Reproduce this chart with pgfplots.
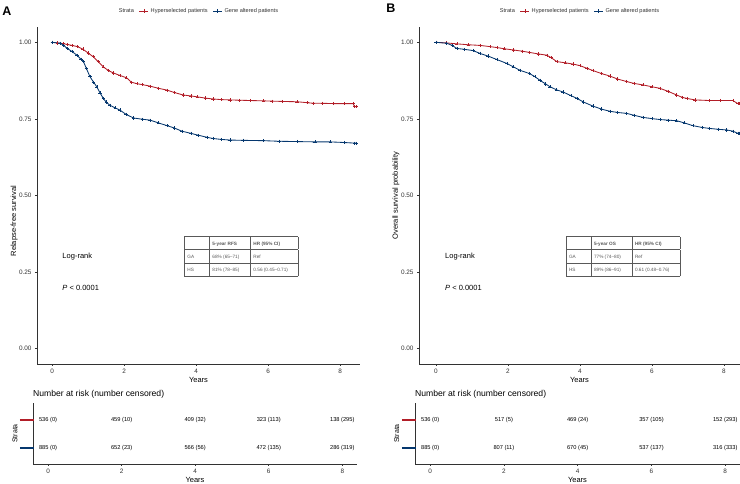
\documentclass[border=0pt]{standalone}
\usepackage{pgfplots}
\pgfplotsset{compat=1.18}
\usepackage{fontspec}
\setmainfont{Liberation Sans}
\definecolor{hsred}{RGB}{178,30,40}
\definecolor{gablue}{RGB}{5,55,110}
\definecolor{axgray}{RGB}{50,50,50}

\pgfplotstableread{
t s
0 1.000
0.15 0.998
0.3 0.996
0.42 0.993
0.55 0.990
0.7 0.986
0.85 0.978
1.0 0.965
1.14 0.953
1.28 0.937
1.42 0.920
1.56 0.908
1.7 0.900
1.88 0.892
2.07 0.884
2.2 0.870
2.35 0.865
2.5 0.862
2.72 0.857
2.95 0.850
3.19 0.844
3.4 0.836
3.64 0.828
3.85 0.825
4.03 0.822
4.25 0.818
4.47 0.815
4.7 0.813
4.94 0.812
5.2 0.811
5.5 0.810
5.86 0.809
6.1 0.808
6.4 0.807
6.8 0.806
7.08 0.803
7.25 0.801
7.5 0.801
7.8 0.800
8.1 0.800
8.36 0.800
8.4 0.790
8.45 0.790
}\rfsHS

\pgfplotstableread{
t s
0 1.000
0.22 0.997
0.32 0.990
0.42 0.980
0.55 0.970
0.69 0.958
0.8 0.945
0.87 0.937
0.95 0.915
1.05 0.888
1.15 0.870
1.24 0.855
1.33 0.835
1.42 0.817
1.5 0.805
1.6 0.795
1.75 0.786
1.88 0.779
2.05 0.765
2.26 0.753
2.5 0.749
2.72 0.746
2.95 0.737
3.19 0.728
3.4 0.720
3.6 0.710
3.85 0.703
4.05 0.697
4.3 0.690
4.47 0.686
4.7 0.683
4.94 0.681
5.3 0.680
5.86 0.679
6.3 0.677
6.8 0.676
7.3 0.675
7.72 0.675
8.1 0.673
8.4 0.671
8.45 0.671
}\rfsGA

\pgfplotstableread{
t s
0 1.000
0.3 0.998
0.58 0.995
0.9 0.992
1.22 0.990
1.5 0.986
1.69 0.983
1.9 0.979
2.15 0.975
2.4 0.971
2.6 0.967
2.85 0.962
3.08 0.958
3.2 0.950
3.36 0.937
3.6 0.933
3.81 0.929
4.0 0.924
4.2 0.915
4.36 0.908
4.6 0.898
4.83 0.890
5.05 0.880
5.3 0.872
5.5 0.866
5.75 0.861
6.0 0.855
6.22 0.850
6.45 0.840
6.69 0.828
6.85 0.820
6.97 0.817
7.2 0.812
7.6 0.810
7.9 0.810
8.25 0.810
8.39 0.800
8.44 0.800
}\osHS

\pgfplotstableread{
t s
0 1.000
0.3 0.997
0.45 0.990
0.58 0.980
0.8 0.977
1.03 0.973
1.22 0.964
1.45 0.955
1.69 0.944
1.97 0.931
2.15 0.920
2.33 0.909
2.6 0.898
2.75 0.888
2.89 0.876
3.05 0.864
3.17 0.855
3.35 0.845
3.53 0.838
3.75 0.826
3.92 0.817
4.1 0.805
4.36 0.792
4.6 0.782
4.83 0.775
5.05 0.771
5.3 0.768
5.5 0.762
5.75 0.755
6.0 0.751
6.22 0.748
6.45 0.746
6.69 0.744
6.9 0.737
7.14 0.728
7.4 0.722
7.6 0.719
7.85 0.716
8.08 0.714
8.25 0.710
8.39 0.703
8.44 0.703
}\osGA

\pgfplotsset{
  base/.style={
    scale only axis,
    axis lines*=left,
    axis line style={axgray, line width=0.5pt},
    tick align=outside,
    major tick length=2pt,
    tick style={axgray, line width=0.5pt},
    ticklabel style={font=\fontsize{6.4}{7}\selectfont, text=black!80},
    /pgf/number format/assume math mode=true,
    label style={font=\fontsize{7.5}{8}\selectfont},
    clip=false,
  },
  main/.style={
    base,
    height=337pt,
    ymin=-0.05, ymax=1.05,
    ytick={0,0.25,0.5,0.75,1},
    yticklabel style={/pgf/number format/.cd, fixed, fixed zerofill, precision=2},
    xtick={0,2,4,6,8},
    xlabel={Years},
    xlabel style={yshift=4pt},
    legend style={draw=none, at={(0.5,1)}, anchor=center, yshift=16pt,
      legend columns=-1, font=\fontsize{5.6}{6}\selectfont, text=black!80,
      /tikz/every even column/.append style={column sep=3pt}},
    legend image code/.code={\draw[#1] (0pt,0pt) -- (9pt,0pt); \draw[#1,only marks] plot coordinates {(4.5pt,0pt)};},
  },
  km/.style={sharp plot, line width=0.85pt, mark=+, mark size=1.6pt, mark options={solid, line width=0.45pt}},
  risk/.style={
    base,
    height=61pt,
    xmin=-0.41, xmax=8.4,
    ymin=0.43, ymax=2.6,
    xtick={0,2,4,6,8},
    ytick={1,2},
    ytick style={draw=none},
    yticklabels={{\textcolor{gablue}{\rule{14pt}{2.6pt}}},{\textcolor{hsred}{\rule{14pt}{2.6pt}}}},
    yticklabel style={inner sep=0pt, anchor=east, xshift=3pt},
    xlabel={Years},
    xlabel style={yshift=4pt},
    ylabel={Strata},
    ylabel style={at={(axis description cs:-0.056,0.5)}, anchor=center, font=\fontsize{7}{8}\selectfont},
  },
}

\newcommand{\cellstrut}{\rule[-4.4pt]{0pt}{12.9pt}}

\begin{document}
\begin{tikzpicture}
\path[use as bounding box] (0,0) rectangle (740pt,484pt);

% Panel letters
\node[font=\fontsize{12.5}{13}\selectfont\bfseries, anchor=center] at (7pt,472.3pt) {A};
\node[font=\fontsize{12.5}{13}\selectfont\bfseries, anchor=center] at (391pt,475.5pt) {B};

% ---------- Panel A main
\begin{axis}[main, at={(37pt,120pt)}, anchor=south west, width=323pt,
  xmin=-0.42, xmax=8.55,
  ylabel={Relapse-free survival},
  ylabel style={at={(axis description cs:-0.071,0.424)}, anchor=center}]
\addlegendimage{empty legend}\addlegendentry{Strata}
\addplot[km, hsred] table[x=t,y=s] {\rfsHS};
\addlegendentry{Hyperselected patients}
\addplot[km, gablue] table[x=t,y=s] {\rfsGA};
\addlegendentry{Gene altered patients}
\node[anchor=west, font=\fontsize{7.5}{8}\selectfont] at (axis cs:0.19,0.30) {Log-rank};
\node[anchor=west, font=\fontsize{7.5}{8}\selectfont] at (axis cs:0.19,0.198) {\textit{P} < 0.0001};
\node[anchor=north west, inner sep=0pt, font=\fontsize{4.7}{5}\selectfont, text=black!80] at (axis cs:3.67,0.368) {%
\setlength{\tabcolsep}{3pt}\setlength{\arrayrulewidth}{0.45pt}%
\color{black!65}%
\begin{tabular}{|p{19pt}|p{35pt}|p{42pt}|}
\hline
\cellstrut & \textbf{5-year RFS} & \textbf{HR (95\% CI)}\\ \hline
\cellstrut GA & 68\% (65--71) & Ref\\ \hline
\cellstrut HS & 81\% (78--85) & 0.56 (0.45--0.71)\\ \hline
\end{tabular}};
\end{axis}

% ---------- Panel B main
\begin{axis}[main, at={(419pt,120pt)}, anchor=south west, width=321pt,
  xmin=-0.47, xmax=8.45,
  ylabel={Overall survival probability},
  ylabel style={at={(axis description cs:-0.072,0.5)}, anchor=center}]
\addlegendimage{empty legend}\addlegendentry{Strata}
\addplot[km, hsred] table[x=t,y=s] {\osHS};
\addlegendentry{Hyperselected patients}
\addplot[km, gablue] table[x=t,y=s] {\osGA};
\addlegendentry{Gene altered patients}
\node[anchor=west, font=\fontsize{7.5}{8}\selectfont] at (axis cs:0.16,0.30) {Log-rank};
\node[anchor=west, font=\fontsize{7.5}{8}\selectfont] at (axis cs:0.16,0.198) {\textit{P} < 0.0001};
\node[anchor=north west, inner sep=0pt, font=\fontsize{4.7}{5}\selectfont, text=black!80] at (axis cs:3.61,0.368) {%
\setlength{\tabcolsep}{3pt}\setlength{\arrayrulewidth}{0.45pt}%
\color{black!65}%
\begin{tabular}{|p{19pt}|p{35pt}|p{42pt}|}
\hline
\cellstrut & \textbf{5-year OS} & \textbf{HR (95\% CI)}\\ \hline
\cellstrut GA & 77\% (74--80) & Ref\\ \hline
\cellstrut HS & 89\% (86--91) & 0.61 (0.48--0.76)\\ \hline
\end{tabular}};
\end{axis}

% ---------- Panel A risk table
\begin{axis}[risk, at={(33pt,20pt)}, anchor=south west, width=324pt]
\node[anchor=south west, inner sep=0pt, font=\fontsize{8.6}{9}\selectfont] at (rel axis cs:0,1) [yshift=5pt] {Number at risk (number censored)};
\foreach \x/\lab in {0/536 (0),2/459 (10),4/409 (32),6/323 (113),8/138 (295)}{
  \edef\tmp{\noexpand\node[font=\noexpand\fontsize{5.7}{6}\noexpand\selectfont] at (axis cs:\x,2) {\lab};}\tmp}
\foreach \x/\lab in {0/885 (0),2/652 (23),4/566 (56),6/472 (135),8/286 (319)}{
  \edef\tmp{\noexpand\node[font=\noexpand\fontsize{5.7}{6}\noexpand\selectfont] at (axis cs:\x,1) {\lab};}\tmp}
\end{axis}

% ---------- Panel B risk table
\begin{axis}[risk, at={(415pt,20pt)}, anchor=south west, width=325pt]
\node[anchor=south west, inner sep=0pt, font=\fontsize{8.6}{9}\selectfont] at (rel axis cs:0,1) [yshift=5pt] {Number at risk (number censored)};
\foreach \x/\lab in {0/536 (0),2/517 (5),4/469 (24),6/357 (105),8/152 (293)}{
  \edef\tmp{\noexpand\node[font=\noexpand\fontsize{5.7}{6}\noexpand\selectfont] at (axis cs:\x,2) {\lab};}\tmp}
\foreach \x/\lab in {0/885 (0),2/807 (11),4/670 (45),6/537 (137),8/316 (333)}{
  \edef\tmp{\noexpand\node[font=\noexpand\fontsize{5.7}{6}\noexpand\selectfont] at (axis cs:\x,1) {\lab};}\tmp}
\end{axis}
\end{tikzpicture}
\end{document}
